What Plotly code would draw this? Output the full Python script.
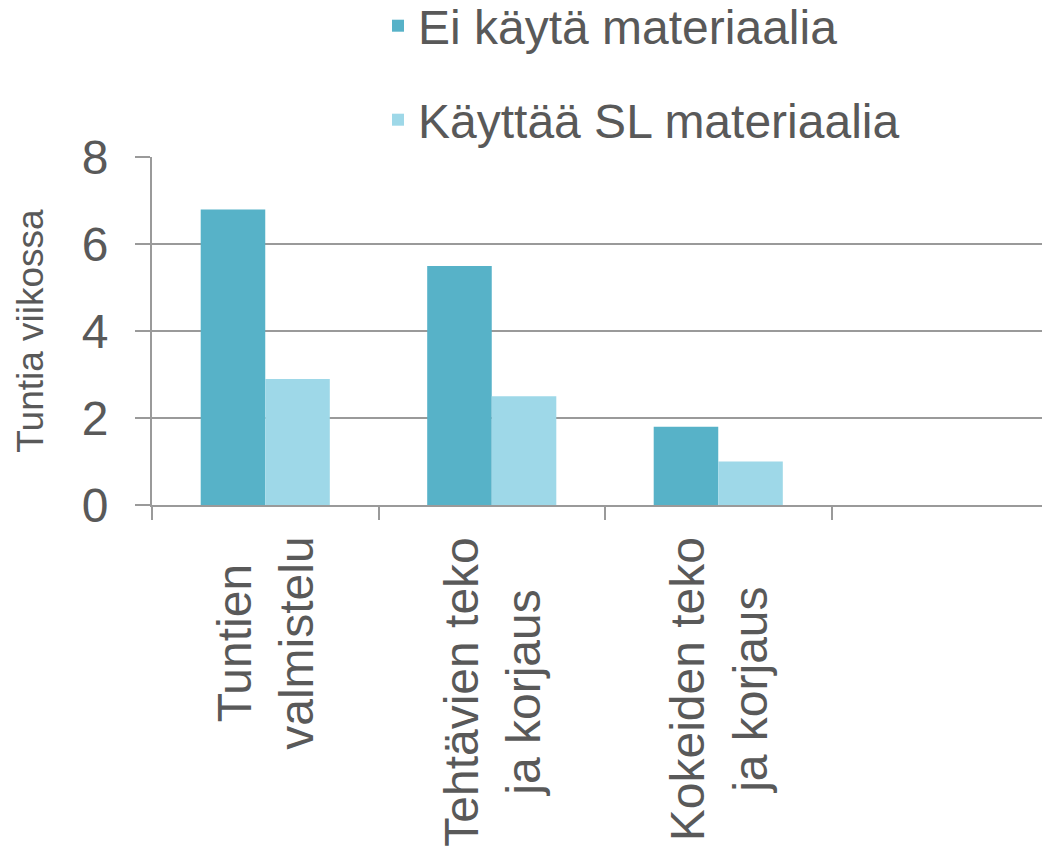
import plotly.graph_objects as go

categories = ["Tuntien<br>valmistelu", "Tehtävien teko<br>ja korjaus", "Kokeiden teko<br>ja korjaus", " "]
ei_kayta = [6.8, 5.5, 1.8, None]
kayttaa_sl = [2.9, 2.5, 1.0, None]
series_names = ["Ei käytä materiaalia", "Käyttää SL materiaalia"]
y_ticks = [0, 2, 4, 6, 8]
y_title = "Tuntia viikossa"

TXT = "#595959"
GRID = "#9a9a9a"
FONT = "Liberation Sans, Arial, sans-serif"
FS = 48
PW = 906.0
PH = 348.0

fig = go.Figure()
fig.add_trace(go.Bar(x=categories, y=ei_kayta, name=series_names[0],
                     marker=dict(color="#57B2C8", line=dict(width=0)), legend="legend"))
fig.add_trace(go.Bar(x=categories, y=kayttaa_sl, name=series_names[1],
                     marker=dict(color="#9ED8E8", line=dict(width=0)), legend="legend2"))

# category labels drawn as centred, rotated annotations
for cat in categories:
    if cat.strip():
        fig.add_annotation(x=cat, y=-30 / PH, xref="x", yref="paper",
                           text=cat, textangle=-90, showarrow=False,
                           xanchor="center", yanchor="top", align="center",
                           font=dict(size=FS, color=TXT, family=FONT))

fig.update_layout(
    width=1050, height=848,
    margin=dict(l=144, r=0, t=149, b=848 - 149 - 348, autoexpand=False),
    paper_bgcolor="white", plot_bgcolor="white",
    font=dict(family=FONT, color=TXT, size=FS),
    barmode="group", bargap=0.43, bargroupgap=0,
    showlegend=True,
    legend=dict(x=(378 - 152) / PW, xanchor="left", y=(505 - 26) / PH, yanchor="middle",
                font=dict(size=FS, color=TXT), bgcolor="rgba(0,0,0,0)", borderwidth=0),
    legend2=dict(x=(378 - 152) / PW, xanchor="left", y=(505 - 120) / PH, yanchor="middle",
                 font=dict(size=FS, color=TXT), bgcolor="rgba(0,0,0,0)", borderwidth=0),
    xaxis=dict(
        type="category", range=[-0.5, 3.5], tickson="boundaries",
        ticks="outside", ticklen=13, tickwidth=2, tickcolor=GRID,
        showline=True, linecolor=GRID, linewidth=2,
        showgrid=False, showticklabels=False, automargin=False, zeroline=False,
    ),
    yaxis=dict(
        range=[0, 8.005], tickvals=y_ticks, ticks="outside", ticklen=15,
        tickwidth=2, tickcolor=GRID, ticklabelstandoff=17,
        showgrid=True, gridcolor=GRID, gridwidth=2,
        showline=True, linecolor=GRID, linewidth=2, automargin=False,
        zeroline=False, tickfont=dict(size=FS, color=TXT),
        title=dict(text=y_title, font=dict(size=37, color=TXT), standoff=27),
    ),
)

fig.write_html("out.html")
